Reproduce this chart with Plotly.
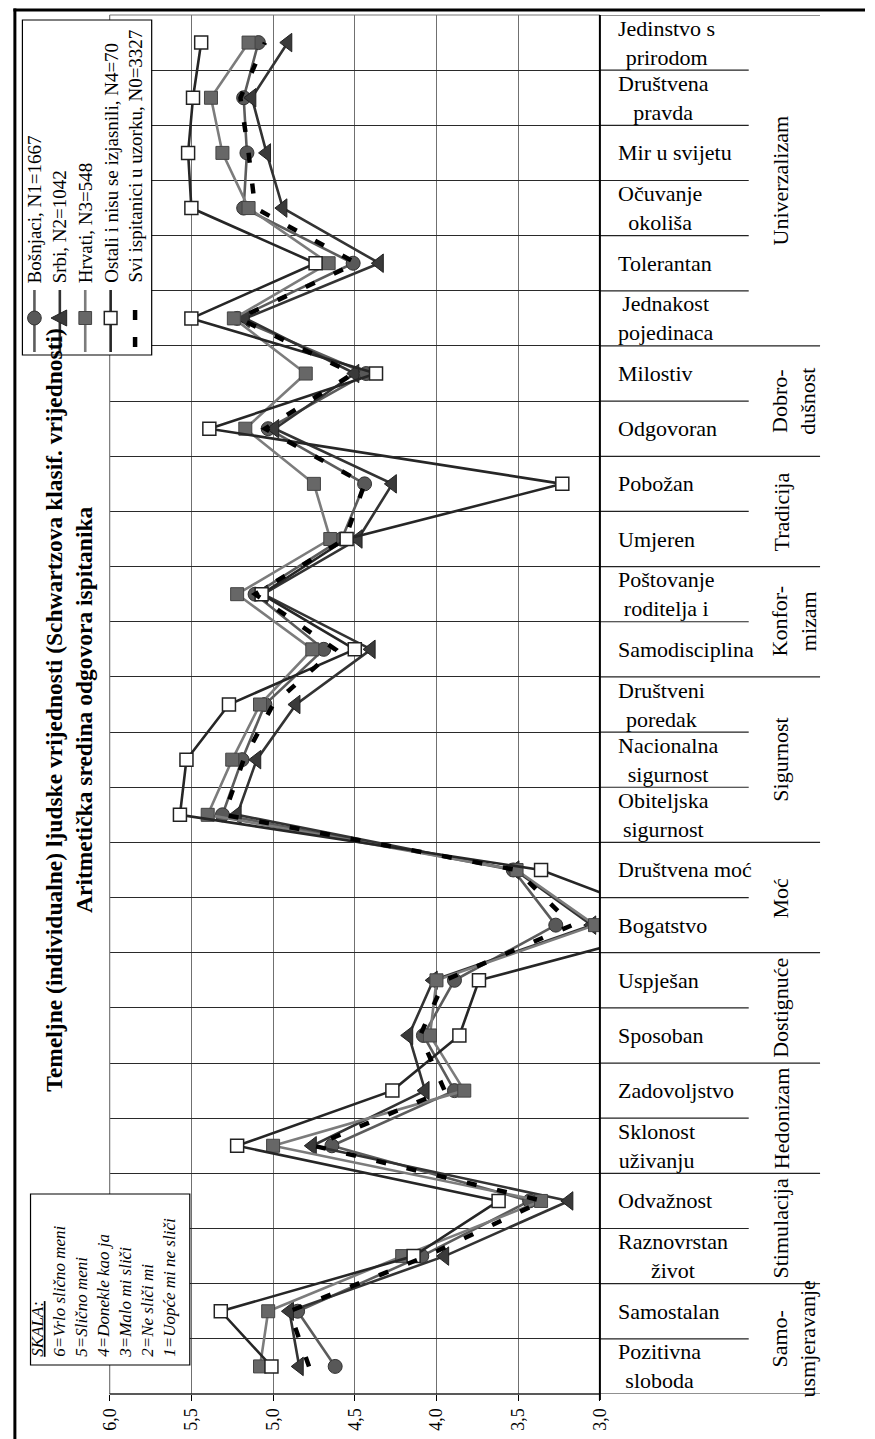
import plotly.graph_objects as go

# ---------------- data (bottom -> top, as in the picture) ----------------
categories = ["Pozitivna<br>sloboda", "Samostalan", "Raznovrstan<br>život", "Odvažnost",
              "Sklonost<br>uživanju", "Zadovoljstvo", "Sposoban", "Uspješan", "Bogatstvo",
              "Društvena moć", "Obiteljska<br>sigurnost", "Nacionalna<br>sigurnost",
              "Društveni<br>poredak", "Samodisciplina", "Poštovanje<br>roditelja i", "Umjeren",
              "Pobožan", "Odgovoran", "Milostiv", "Jednakost<br>pojedinaca", "Tolerantan",
              "Očuvanje<br>okoliša", "Mir u svijetu", "Društvena<br>pravda", "Jedinstvo s<br>prirodom"]

group_names = ["Samo-<br>usmjeravanje", "Stimulacija", "Hedonizam", "Dostignuće", "Moć",
               "Sigurnost", "Konfor-<br>mizam", "Tradicija", "Dobro-<br>dušnost", "Univerzalizam"]
group_sizes = [2, 2, 2, 2, 2, 3, 2, 2, 2, 6]

bosnjaci = [4.62, 4.85, 4.09, 3.43, 4.64, 3.89, 4.08, 3.89, 3.27, 3.53, 5.31, 5.19, 5.05,
            4.69, 5.11, 4.58, 4.44, 5.03, 4.43, 5.22, 4.51, 5.18, 5.16, 5.18, 5.09]
srbi = [4.84, 4.90, 3.95, 3.19, 4.76, 4.07, 4.17, 4.02, 3.05, 3.52, 5.22, 5.10, 4.86,
        4.40, 5.06, 4.48, 4.27, 4.99, 4.50, 5.17, 4.35, 4.94, 5.04, 5.13, 4.91]
hrvati = [5.08, 5.03, 4.21, 3.36, 5.00, 3.83, 4.04, 4.00, 3.03, 3.51, 5.40, 5.25, 5.08,
          4.76, 5.22, 4.65, 4.75, 5.17, 4.80, 5.24, 4.66, 5.15, 5.31, 5.38, 5.15]
ostali = [5.01, 5.32, 4.14, 3.62, 5.22, 4.27, 3.86, 3.74, 2.47, 3.36, 5.57, 5.53, 5.27,
          4.50, 5.07, 4.55, 3.23, 5.39, 4.37, 5.50, 4.74, 5.50, 5.52, 5.49, 5.44]
svi = [4.78, 4.90, 4.06, 3.35, 4.75, 3.95, 4.10, 3.95, 3.17, 3.51, 5.30, 5.18, 5.00,
       4.62, 5.11, 4.56, 4.44, 5.05, 4.51, 5.21, 4.49, 5.11, 5.15, 5.20, 5.05]

series_names = ["Bošnjaci, N1=1667", "Srbi, N2=1042", "Hrvati, N3=548",
                "Ostali i nisu se izjasnili, N4=70", "Svi ispitanici u uzorku, N0=3327"]

tick_vals = [3.0, 3.5, 4.0, 4.5, 5.0, 5.5, 6.0]
tick_text = ["3,0", "3,5", "4,0", "4,5", "5,0", "5,5", "6,0"]

title_lines = ["Temeljne (individualne) ljudske vrijednosti (Schwartzova klasif. vrijednosti)",
               "Aritmetička sredina odgovora ispitanika"]
scale_lines = ["<u>SKALA:</u>", "6=Vrlo slično meni", "5=Slično meni", "4=Donekle kao ja",
               "3=Malo mi sliči", "2=Ne sliči mi", "1=Uopće mi ne sliči"]

# ---------------- layout geometry ----------------
W, H = 875, 1439
PL, PR, PT, PB = 102.0, 603.7, 15.0, 1394.0
SERIF = "Liberation Serif"


def px(x):
    return x / W


def py(y):
    return 1 - y / H


n = len(categories)
ypos = list(range(n))

line_cols = ["#5c5c5c", "#333333", "#7c7c7c", "#262626"]
fill_cols = ["#585858", "#3a3a3a", "#676767", "white"]
edge_cols = ["#333333", "#222222", "#444444", "#222222"]
symbols = ["circle", "triangle-left", "square", "square"]
sizes = [14, 16, 13, 13]

fig = go.Figure()
for k, (vals, nm) in enumerate(zip([bosnjaci, srbi, hrvati, ostali], series_names[:4])):
    fig.add_trace(go.Scatter(
        x=vals, y=ypos, mode="lines+markers", name=nm, showlegend=False,
        line=dict(color=line_cols[k], width=2.6),
        marker=dict(symbol=symbols[k], size=sizes[k], color=fill_cols[k],
                    line=dict(color=edge_cols[k], width=1.5 if k == 3 else 1))))
fig.add_trace(go.Scatter(x=svi, y=ypos, mode="lines", name=series_names[4], showlegend=False,
                         line=dict(color="black", width=4.5, dash="10px,21px")))

shapes = []
# outer frame: only top and left edges are inside the page
shapes.append(dict(type="line", xref="paper", yref="paper", x0=px(3.5), x1=1, y0=py(10), y1=py(10),
                   line=dict(color="black", width=3)))
shapes.append(dict(type="line", xref="paper", yref="paper", x0=px(5), x1=px(5), y0=py(8.5), y1=0,
                   line=dict(color="black", width=3)))
# plot-area frame lines
shapes.append(dict(type="line", xref="paper", yref="paper", x0=px(PL), x1=px(PR), y0=py(PT), y1=py(PT),
                   line=dict(color="#777777", width=1.2)))
shapes.append(dict(type="line", xref="paper", yref="paper", x0=px(PL), x1=px(PL), y0=py(PT), y1=py(PB),
                   line=dict(color="#777777", width=1.2)))
shapes.append(dict(type="line", xref="paper", yref="paper", x0=px(PL), x1=px(PR), y0=py(PB), y1=py(PB),
                   line=dict(color="#222222", width=1.5)))
# category separator lines through the label column, group lines longer
group_bounds = [0]
for s in group_sizes:
    group_bounds.append(group_bounds[-1] + s)
for k in range(n + 1):
    xend = 829 if k in group_bounds else 756
    shapes.append(dict(type="line", xref="paper", yref="y", x0=px(PR), x1=px(xend),
                       y0=k - 0.5, y1=k - 0.5, line=dict(color="#222222", width=1.2)))
# category axis line
shapes.append(dict(type="line", xref="paper", yref="paper", x0=px(PR), x1=px(PR), y0=py(PT), y1=py(PB + 6),
                   line=dict(color="black", width=2)))
# legend box and scale box
shapes.append(dict(type="rect", xref="paper", yref="paper", x0=px(12.7), x1=px(145), y0=py(20), y1=py(355),
                   line=dict(color="black", width=1.2), fillcolor="white"))
shapes.append(dict(type="rect", xref="paper", yref="paper", x0=px(21), x1=px(184), y0=py(1194), y1=py(1365),
                   line=dict(color="black", width=1.2), fillcolor="white"))

# legend glyphs (drawn after the legend box)
leg_x = [25, 51, 77, 103, 128]
MY = 318
for k in range(4):
    cx = leg_x[k]
    shapes.append(dict(type="line", xref="paper", yref="paper", x0=px(cx), x1=px(cx),
                       y0=py(290), y1=py(352), line=dict(color=line_cols[k], width=2.6)))
r = 7
shapes.append(dict(type="circle", xref="paper", yref="paper", x0=px(leg_x[0] - r), x1=px(leg_x[0] + r),
                   y0=py(MY - r), y1=py(MY + r), fillcolor=fill_cols[0], line=dict(color=edge_cols[0], width=1)))
tx = leg_x[1]
shapes.append(dict(type="path", xref="paper", yref="paper",
                   path=f"M {px(tx - 9)} {py(MY)} L {px(tx + 7)} {py(MY - 8)} L {px(tx + 7)} {py(MY + 8)} Z",
                   fillcolor=fill_cols[1], line=dict(color=edge_cols[1], width=1)))
for k in (2, 3):
    cx = leg_x[k]
    shapes.append(dict(type="rect", xref="paper", yref="paper", x0=px(cx - 6.5), x1=px(cx + 6.5),
                       y0=py(MY - 6.5), y1=py(MY + 6.5), fillcolor=fill_cols[k],
                       line=dict(color=edge_cols[k], width=1.5 if k == 3 else 1)))
for yc in (315, 342):
    shapes.append(dict(type="rect", xref="paper", yref="paper", x0=px(leg_x[4] - 2.3), x1=px(leg_x[4] + 2.3),
                       y0=py(yc - 5), y1=py(yc + 5), fillcolor="black", line=dict(width=0)))

annotations = []
for i, lab in enumerate(categories):
    annotations.append(dict(x=px(620), y=i, xref="paper", yref="y", text=lab, showarrow=False,
                            xanchor="left", yanchor="middle", align="center",
                            font=dict(family=SERIF, size=22, color="black")))
start = 0
for g, s in zip(group_names, group_sizes):
    xc = 802 if "<br>" in g else 789
    annotations.append(dict(x=px(xc), y=start + (s - 1) / 2, xref="paper", yref="y", text=g,
                            showarrow=False, textangle=-90, xanchor="center", yanchor="middle",
                            align="center", font=dict(family=SERIF, size=22, color="black")))
    start += s
# title
annotations.append(dict(x=px(60), y=py(710), xref="paper", yref="paper",
                        text="<br>".join("<b>" + t + "</b>" for t in title_lines), showarrow=False,
                        textangle=-90, xanchor="center", yanchor="middle", align="center",
                        font=dict(family=SERIF, size=23.5, color="black")))
# scale box text
annotations.append(dict(x=px(96), y=py(1360), xref="paper", yref="paper",
                        text="<i>" + "<br>".join(scale_lines) + "</i>", showarrow=False,
                        textangle=-90, xanchor="center", yanchor="bottom", align="left",
                        font=dict(family=SERIF, size=17, color="black")))
# legend labels
for cx, nm in zip(leg_x, series_names):
    annotations.append(dict(x=px(cx), y=py(285), xref="paper", yref="paper", text=nm, showarrow=False,
                            textangle=-90, xanchor="center", yanchor="bottom",
                            font=dict(family=SERIF, size=19, color="black")))

fig.update_layout(
    width=W, height=H, margin=dict(l=0, r=0, t=0, b=0),
    paper_bgcolor="white", plot_bgcolor="white",
    showlegend=False,
    xaxis=dict(domain=[px(PL), px(PR)], range=[6, 3], tickvals=tick_vals, ticktext=tick_text,
               tickangle=-90, ticks="outside", ticklen=6, tickcolor="black", tickwidth=1,
               showgrid=True, gridcolor="#707070", gridwidth=1.2, zeroline=False, showline=False,
               tickfont=dict(family=SERIF, size=18, color="black")),
    yaxis=dict(domain=[py(PB), py(PT)], range=[-0.5, n - 0.5],
               tickvals=[k - 0.5 for k in range(n + 1)], showticklabels=False, ticks="",
               showgrid=True, gridcolor="#2a2a2a", gridwidth=1.2, zeroline=False, showline=False),
    shapes=shapes, annotations=annotations,
)

fig.write_html(
    "out.html",
    config={"displayModeBar": False},
    post_script=("document.body.style.margin='0';document.body.style.padding='0';"
                 "document.body.style.overflow='hidden';"
                 "document.documentElement.style.overflow='hidden';"),
)
